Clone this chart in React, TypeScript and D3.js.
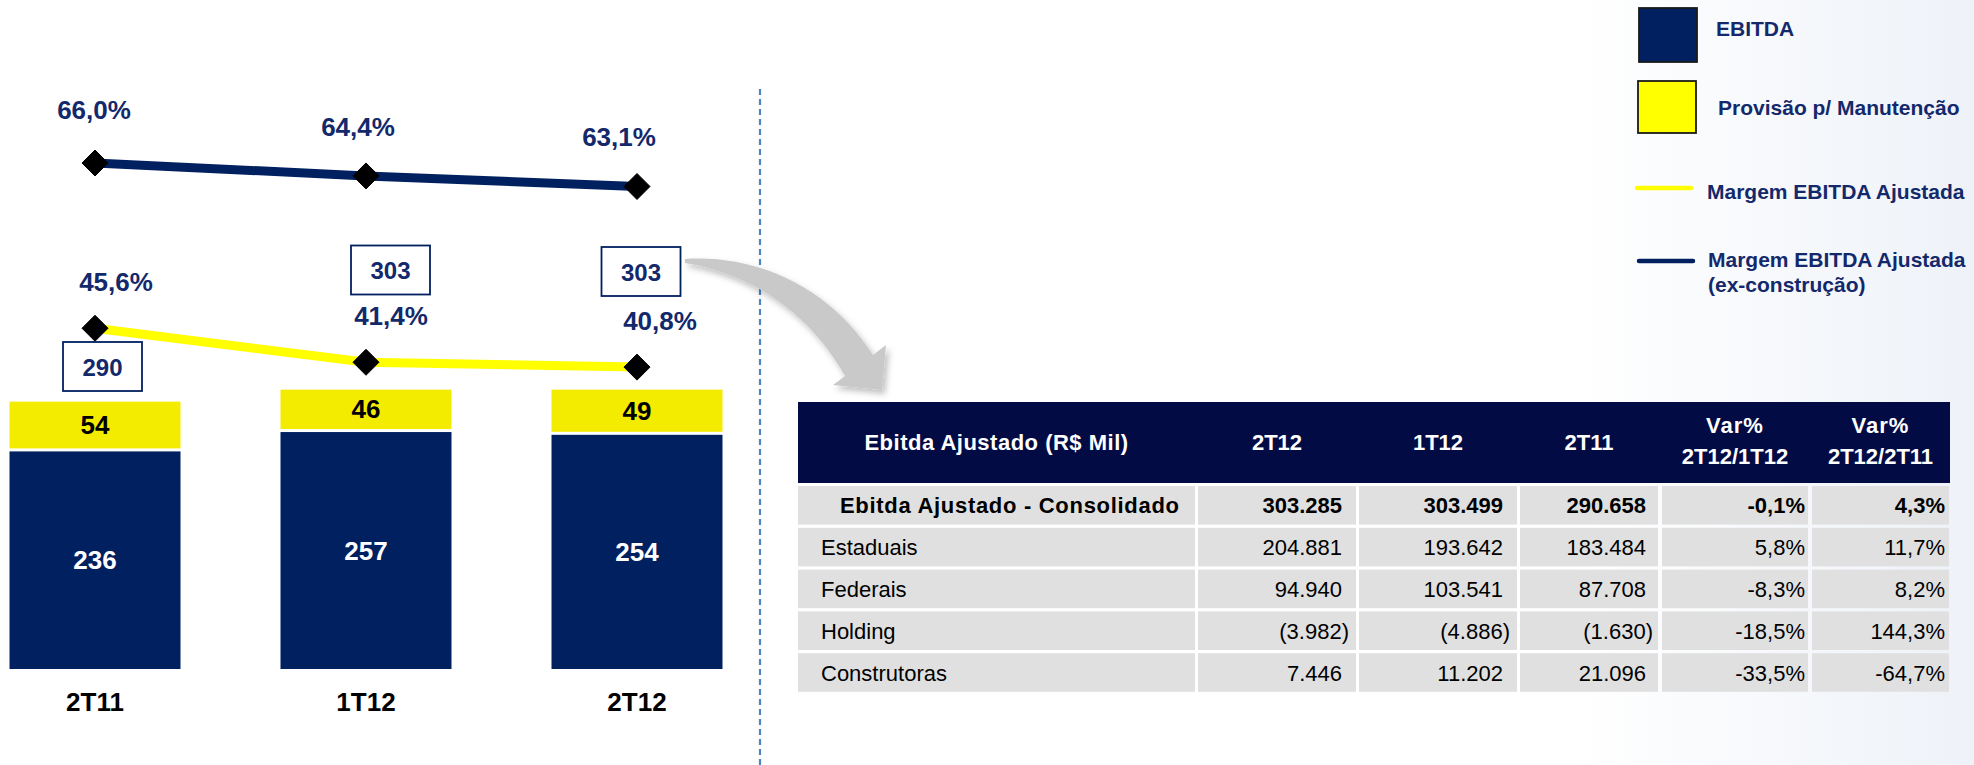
import React from 'react';
import * as d3 from 'd3';

// ---------- data ----------
const categories = ['2T11', '1T12', '2T12'];
const ebitda = [236, 257, 254];
const provisao = [54, 46, 49];
const totals = [290, 303, 303];
const margemAjustada = [45.6, 41.4, 40.8];
const margemExConstrucao = [66.0, 64.4, 63.1];

const legendLabels = ['EBITDA', 'Provisão p/ Manutenção', 'Margem EBITDA Ajustada', 'Margem EBITDA Ajustada', '(ex-construção)'];

const tableHeaders = [['Ebitda Ajustado (R$ Mil)'], ['2T12'], ['1T12'], ['2T11'], ['Var%', '2T12/1T12'], ['Var%', '2T12/2T11']];
const rowLabels = ['Ebitda Ajustado - Consolidado', 'Estaduais', 'Federais', 'Holding', 'Construtoras'];
const values2T12 = [303285, 204881, 94940, -3982, 7446];
const values1T12 = [303499, 193642, 103541, -4886, 11202];
const values2T11 = [290658, 183484, 87708, -1630, 21096];
const var2T12_1T12 = [-0.1, 5.8, -8.3, -18.5, -33.5];
const var2T12_2T11 = [4.3, 11.7, 8.2, 144.3, -64.7];

// ---------- styles / layout ----------
const NAVY = '#002060';
const YELLOW_BAR = '#f4ec00';
const YELLOW_LINE = '#ffff00';
const TEXT_NAVY = '#13296b';
const HEADER = '#030b45';
const CELL = '#e0e0e0';
const FONT = '"Liberation Sans", Arial, Helvetica, sans-serif';

const locale = d3.formatLocale({ decimal: ',', thousands: '.', grouping: [3], currency: ['R$', ''], minus: '-' });
const fmtInt = locale.format(',d');
const fmt1 = locale.format('.1f');
const fmtNum = (v: number) => (v < 0 ? `(${fmtInt(-v)})` : fmtInt(v));
const fmtPct = (v: number) => `${fmt1(v)}%`;

export default function App() {
  const W = 1974;
  const H = 765;

  const x = d3.scalePoint<string>().domain(categories).range([95, 637]);
  const barW = 171;
  const yBar = d3.scaleLinear().domain([0, 300]).range([669, 669 - 300 * 0.922]);
  const yPct = d3.scaleLinear().domain([40, 66]).range([163 + 26 * 8.1, 163]);

  const lineGen = d3
    .line<number>()
    .x((_, i) => x(categories[i]) as number)
    .y((d) => yPct(d));

  const diamond = 'M0,-13 L13,0 L0,13 L-13,0 Z';

  const exLabelOffsets = [[-1, -44], [-8, -40], [-18, -40]];
  const adjLabelOffsets = [[21, -37], [25, -37], [23, -37]];
  const boxCenters = [[7.5, 366.5], [24.5, 270], [4, 271.5]];

  // table layout
  const colEdges = [[798, 1195], [1198, 1356], [1359, 1517], [1520, 1658], [1662, 1808], [1812, 1949]];
  const rightPad = [0, 14, 14, 12, 3, 4];
  const rowTop = 486;
  const rowPitch = 41.8;
  const rowH = 38.6;
  const columns = [values2T12, values1T12, values2T11];
  const varCols = [var2T12_1T12, var2T12_2T11];

  return (
    <div style={{ position: 'absolute', left: 0, top: 0, width: W, height: H }}>
      <svg width={W} height={H} viewBox={`0 0 ${W} ${H}`} style={{ display: 'block', fontFamily: FONT }}>
        <defs>
          <linearGradient id="bgGrad" x1="0" x2="1" y1="0" y2="0">
            <stop offset="0.8" stopColor="#ffffff" />
            <stop offset="1" stopColor="#eef2f8" />
          </linearGradient>
          <filter id="shadow" x="-20%" y="-20%" width="150%" height="150%">
            <feDropShadow dx="3" dy="4" stdDeviation="3" floodColor="#000" floodOpacity="0.25" />
          </filter>
        </defs>
        <rect x={0} y={0} width={W} height={H} fill="url(#bgGrad)" />

        {/* stacked bars */}
        {categories.map((c, i) => {
          const cx = x(c) as number;
          const yNavy = yBar(ebitda[i]);
          const yTot = yBar(totals[i]);
          const yYelBottom = yNavy - 3;
          return (
            <g key={c}>
              <rect x={cx - barW / 2} y={yNavy} width={barW} height={yBar(0) - yNavy} fill={NAVY} />
              <rect x={cx - barW / 2} y={yTot} width={barW} height={yYelBottom - yTot} fill={YELLOW_BAR} />
              <text x={cx} y={(yNavy + yBar(0)) / 2 + 9} textAnchor="middle" fontSize={26} fontWeight="bold" fill="#ffffff">
                {ebitda[i]}
              </text>
              <text x={cx} y={(yTot + yYelBottom) / 2 + 9} textAnchor="middle" fontSize={26} fontWeight="bold" fill="#000000">
                {provisao[i]}
              </text>
              <text x={cx} y={711} textAnchor="middle" fontSize={26} fontWeight="bold" fill="#000000">
                {c}
              </text>
            </g>
          );
        })}

        {/* lines */}
        <path d={lineGen(margemExConstrucao) as string} fill="none" stroke={NAVY} strokeWidth={9} />
        <path d={lineGen(margemAjustada) as string} fill="none" stroke={YELLOW_LINE} strokeWidth={9} />
        {categories.map((c, i) => {
          const cx = x(c) as number;
          return (
            <g key={'m' + c}>
              <path d={diamond} transform={`translate(${cx},${yPct(margemExConstrucao[i])})`} fill="#000" stroke="#000" strokeWidth={1} strokeLinejoin="round" />
              <path d={diamond} transform={`translate(${cx},${yPct(margemAjustada[i])})`} fill="#000" stroke="#000" strokeWidth={1} strokeLinejoin="round" />
              <text
                x={cx + exLabelOffsets[i][0]}
                y={yPct(margemExConstrucao[i]) + exLabelOffsets[i][1]}
                textAnchor="middle"
                fontSize={26}
                fontWeight="bold"
                fill={TEXT_NAVY}
              >
                {fmtPct(margemExConstrucao[i])}
              </text>
              <text
                x={cx + adjLabelOffsets[i][0]}
                y={yPct(margemAjustada[i]) + adjLabelOffsets[i][1]}
                textAnchor="middle"
                fontSize={26}
                fontWeight="bold"
                fill={TEXT_NAVY}
              >
                {fmtPct(margemAjustada[i])}
              </text>
              <rect
                x={cx + boxCenters[i][0] - 39.5}
                y={boxCenters[i][1] - 24.5}
                width={79}
                height={49}
                fill="#ffffff"
                stroke={NAVY}
                strokeWidth={1.8}
              />
              <text x={cx + boxCenters[i][0]} y={boxCenters[i][1] + 9} textAnchor="middle" fontSize={24} fontWeight="bold" fill={TEXT_NAVY}>
                {totals[i]}
              </text>
            </g>
          );
        })}

        {/* divider */}
        <line x1={760} x2={760} y1={89} y2={765} stroke="#4f84c4" strokeWidth={2.2} strokeDasharray="6 4" />

        {/* arrow */}
        <path
          d="M 685 259 C 760 254, 832 290, 873 355 L 886 345 L 882 390 L 833 385 L 845 376 C 815 322, 762 276, 685 263 Z"
          fill="#c9c9c9"
          filter="url(#shadow)"
        />

        {/* legend */}
        <rect x={1639} y={8} width={58} height={54} fill={NAVY} stroke="#1a1a1a" strokeWidth={1.8} />
        <text x={1716} y={36} fontSize={21} fontWeight="bold" fill={TEXT_NAVY}>{legendLabels[0]}</text>
        <rect x={1638} y={81} width={58} height={52} fill={YELLOW_LINE} stroke="#1a1a1a" strokeWidth={1.8} />
        <text x={1718} y={115} fontSize={21} fontWeight="bold" fill={TEXT_NAVY}>{legendLabels[1]}</text>
        <line x1={1637} x2={1691} y1={188} y2={188} stroke={YELLOW_LINE} strokeWidth={4.5} strokeLinecap="round" />
        <text x={1707} y={199} fontSize={21} fontWeight="bold" fill={TEXT_NAVY}>{legendLabels[2]}</text>
        <line x1={1639} x2={1693} y1={261} y2={261} stroke={NAVY} strokeWidth={4.5} strokeLinecap="round" />
        <text x={1708} y={267} fontSize={21} fontWeight="bold" fill={TEXT_NAVY}>{legendLabels[3]}</text>
        <text x={1708} y={292} fontSize={21} fontWeight="bold" fill={TEXT_NAVY}>{legendLabels[4]}</text>

        {/* table header */}
        <rect x={798} y={402} width={1950 - 798} height={81} fill={HEADER} />
        {tableHeaders.map((lines, ci) => {
          const cx = (colEdges[ci][0] + colEdges[ci][1]) / 2;
          return lines.length === 1 ? (
            <text key={'h' + ci} x={cx} y={450} textAnchor="middle" fontSize={22} fontWeight="bold" fill="#ffffff" letterSpacing={ci === 0 ? 0.5 : 0}>
              {lines[0]}
            </text>
          ) : (
            <g key={'h' + ci}>
              <text x={cx} y={433} textAnchor="middle" fontSize={22} fontWeight="bold" fill="#ffffff" letterSpacing={1}>
                {lines[0]}
              </text>
              <text x={cx} y={464} textAnchor="middle" fontSize={22} fontWeight="bold" fill="#ffffff">
                {lines[1]}
              </text>
            </g>
          );
        })}

        {/* table body */}
        {rowLabels.map((label, ri) => {
          const top = rowTop + ri * rowPitch;
          const base = top + rowH / 2 + 8;
          const bold = ri === 0;
          return (
            <g key={'r' + ri}>
              {colEdges.map((e, ci) => (
                <rect key={'c' + ci} x={e[0]} y={top} width={e[1] - e[0]} height={rowH} fill={CELL} />
              ))}
              <text
                x={bold ? 840 : 821}
                y={base}
                fontSize={22}
                fontWeight={bold ? 'bold' : 'normal'}
                fill="#000"
                letterSpacing={bold ? 0.7 : 0}
              >
                {label}
              </text>
              {columns.map((col, k) => {
                const ci = k + 1;
                const v = col[ri];
                const xr = colEdges[ci][1] - rightPad[ci] + (v < 0 ? 7 : 0);
                return (
                  <text key={'v' + ci} x={xr} y={base} textAnchor="end" fontSize={22} fontWeight={bold ? 'bold' : 'normal'} fill="#000">
                    {fmtNum(v)}
                  </text>
                );
              })}
              {varCols.map((col, k) => {
                const ci = k + 4;
                return (
                  <text
                    key={'p' + ci}
                    x={colEdges[ci][1] - rightPad[ci]}
                    y={base}
                    textAnchor="end"
                    fontSize={22}
                    fontWeight={bold ? 'bold' : 'normal'}
                    fill="#000"
                  >
                    {fmtPct(col[ri])}
                  </text>
                );
              })}
            </g>
          );
        })}
      </svg>
    </div>
  );
}
